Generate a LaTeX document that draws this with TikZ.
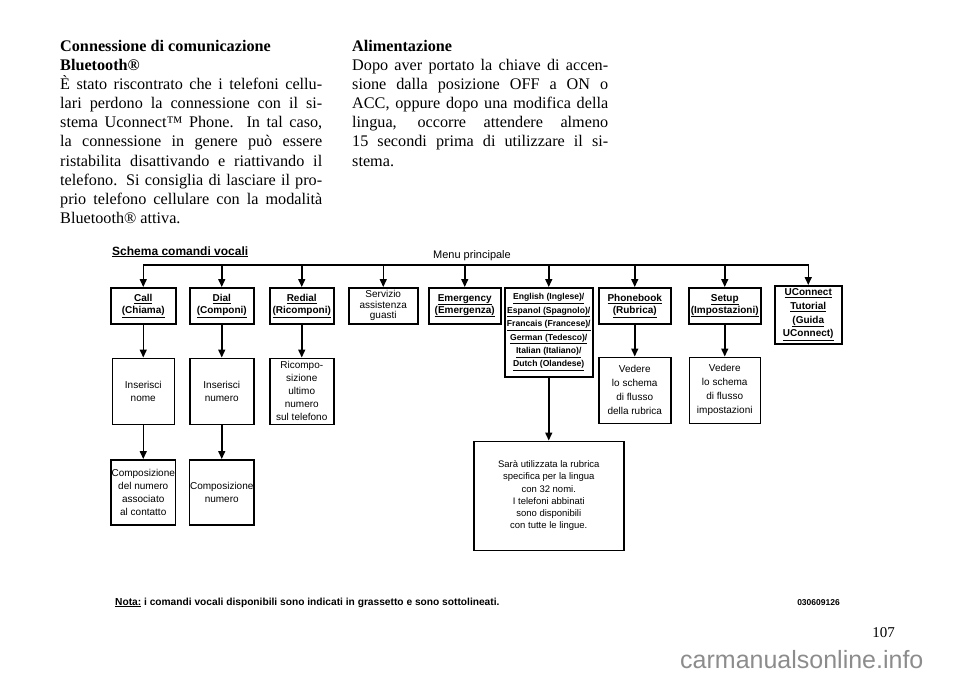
\documentclass[tikz,border=0pt]{standalone}
\usepackage{fontspec}
\setmainfont{Liberation Serif}
\newfontfamily\diagfont{Liberation Sans}
\usetikzlibrary{arrows.meta,positioning}
\definecolor{MarkGray}{HTML}{8C8C8C}
% justified line of a text column
\newcommand{\jline}[2][262pt]{\makebox[#1][s]{#2}}
\newcommand{\bodyfont}{\fontsize{16.2}{19.1}\selectfont\lineskiplimit-100pt\relax}

\begin{document}
\begin{tikzpicture}[x=1pt,y=-1pt,
  box/.style={rectangle,draw,line width=1.5pt,align=center,inner sep=0.5pt,
              minimum height=36pt,font=\diagfont\fontsize{10}{12}\selectfont},
  cmd/.style={box,font=\diagfont\bfseries\fontsize{10}{12}\selectfont},
  info/.style={box,minimum height=66pt,font=\diagfont\fontsize{10}{13}\selectfont},
  arr/.style={-{Triangle[length=8pt,width=7pt]},line width=1.5pt},
  body/.style={align=left,inner sep=0pt,anchor=north west,font=\bodyfont}]
\useasboundingbox (0,0) rectangle (960,678);

% text columns
\node[body] (leftcol) at (60,40) {\textbf{Connessione di comunicazione}\\
  \textbf{Bluetooth®}\\
  \jline{È stato riscontrato che i telefoni cellu-}\\
  \jline{lari perdono la connessione con il si-}\\
  \jline{stema Uconnect™ Phone. In tal caso,}\\
  \jline{la connessione in genere può essere}\\
  \jline{ristabilita disattivando e riattivando il}\\
  \jline{telefono. Si consiglia di lasciare il pro-}\\
  \jline{prio telefono cellulare con la modalità}\\
  Bluetooth® attiva.};
\node[body] (rightcol) at (352,40) {\textbf{Alimentazione}\\
  \jline[256pt]{Dopo aver portato la chiave di accen-}\\
  \jline[256pt]{sione dalla posizione OFF a ON o}\\
  \jline[256pt]{ACC, oppure dopo una modifica della}\\
  \jline[256pt]{lingua, occorre attendere almeno}\\
  \jline[256pt]{15 secondi prima di utilizzare il si-}\\
  stema.};

% diagram
\node[anchor=base west,inner sep=0pt,font=\diagfont\bfseries\fontsize{12}{14}\selectfont]
  (title) at (112,255) {\underline{Schema comandi vocali}};
\node[anchor=base,inner sep=0pt,font=\diagfont\fontsize{11}{13}\selectfont]
  (menulbl) at (472,258) {Menu principale};
\coordinate (menu) at (0,265);

\node[cmd,anchor=north west,minimum width=65pt] (call) at (110,287)
  {\underline{Call}\\\underline{(Chiama)}};
\node[cmd,anchor=north west,minimum width=64pt] (dial) at (189,287)
  {\underline{Dial}\\\underline{(Componi)}};
\node[cmd,anchor=north west,minimum width=64pt] (redial) at (269,287)
  {\underline{Redial}\\\underline{(Ricomponi)}};
\node[box,anchor=north west,minimum width=69pt,
      font=\diagfont\fontsize{10}{10.5}\selectfont] (serv) at (348,287)
  {Servizio\\assistenza\\guasti};
\node[cmd,anchor=north west,minimum width=72pt] (emerg) at (428,287)
  {\underline{Emergency}\\\underline{(Emergenza)}};
\node[cmd,anchor=north west,minimum width=88pt,minimum height=89pt,
      font=\diagfont\bfseries\fontsize{8.6}{13.4}\selectfont] (lang) at (504,287)
  {\underline{English (Inglese)/}\\\underline{Espanol (Spagnolo)/}\\
   \underline{Francais (Francese)/}\\\underline{German (Tedesco)/}\\
   \underline{Italian (Italiano)/}\\\underline{Dutch (Olandese)}};
\node[cmd,anchor=north west,minimum width=72pt] (phone) at (598,287)
  {\underline{Phonebook}\\\underline{(Rubrica)}};
\node[cmd,anchor=north west,minimum width=72pt] (setup) at (688,287)
  {\underline{Setup}\\\underline{(Impostazioni)}};
\node[cmd,anchor=north west,minimum width=67pt,minimum height=58pt,
      font=\diagfont\bfseries\fontsize{10}{13.7}\selectfont] (ucon) at (774,285)
  {\underline{UConnect}\\\underline{Tutorial}\\\underline{(Guida}\\\underline{UConnect)}};

\node[info,minimum width=62pt,below=33pt of call] (nome) {Inserisci\\nome};
\node[info,minimum width=64pt,below=33pt of dial] (numero) {Inserisci\\numero};
\node[info,minimum width=64pt,below=33pt of redial] (ricompo)
  {Ricompo-\\sizione\\ultimo\\numero\\sul telefono};
\node[info,minimum width=72pt,below=32pt of phone,
      font=\diagfont\fontsize{10}{14}\selectfont] (vedrub)
  {Vedere\\lo schema\\di flusso\\della rubrica};
\node[info,minimum width=71pt,below=32pt of setup,
      font=\diagfont\fontsize{10}{14}\selectfont] (vedset)
  {Vedere\\lo schema\\di flusso\\impostazioni};
\node[info,minimum width=62pt,minimum height=65pt,below=34pt of nome] (compnome)
  {Composizione\\del numero\\associato\\al contatto};
\node[info,minimum width=64pt,minimum height=65pt,below=34pt of numero] (compnum)
  {Composizione\\numero};
\node[info,minimum width=150pt,minimum height=109pt,below=63pt of lang,
      font=\diagfont\fontsize{9.5}{12.2}\selectfont] (lingue)
  {Sarà utilizzata la rubrica\\specifica per la lingua\\con 32 nomi.\\
   I telefoni abbinati\\sono disponibili\\con tutte le lingue.};

\draw[line width=1.5pt,line cap=rect] (call.north |- menu) -- (ucon.north |- menu);
\foreach \n in {call,dial,redial,serv,emerg,lang,phone,setup,ucon}
  \draw[arr] (\n.north |- menu) -- (\n.north);
\draw[arr] (call) -- (nome);
\draw[arr] (nome) -- (compnome);
\draw[arr] (dial) -- (numero);
\draw[arr] (numero) -- (compnum);
\draw[arr] (redial) -- (ricompo);
\draw[arr] (phone) -- (vedrub);
\draw[arr] (setup) -- (vedset);
\draw[arr] (lang) -- (lingue);

\node[anchor=base west,inner sep=0pt,font=\diagfont\bfseries\fontsize{10.2}{12}\selectfont]
  (nota) at (115,605)
  {\underline{Nota:} i comandi vocali disponibili sono indicati in grassetto e sono sottolineati.};
\node[anchor=base east,inner sep=0pt,font=\diagfont\bfseries\fontsize{8.5}{10}\selectfont]
  (code) at (840,605) {030609126};

% page number and mark
\node[anchor=base east,inner sep=0pt,font=\fontsize{15}{18}\selectfont]
  (page) at (895,637) {107};
\node[anchor=base west,inner sep=0pt,text=MarkGray,
      font=\diagfont\fontsize{25}{30}\selectfont] (mark) at (680,668)
  {carmanualsonline.info};
\end{tikzpicture}
\end{document}
